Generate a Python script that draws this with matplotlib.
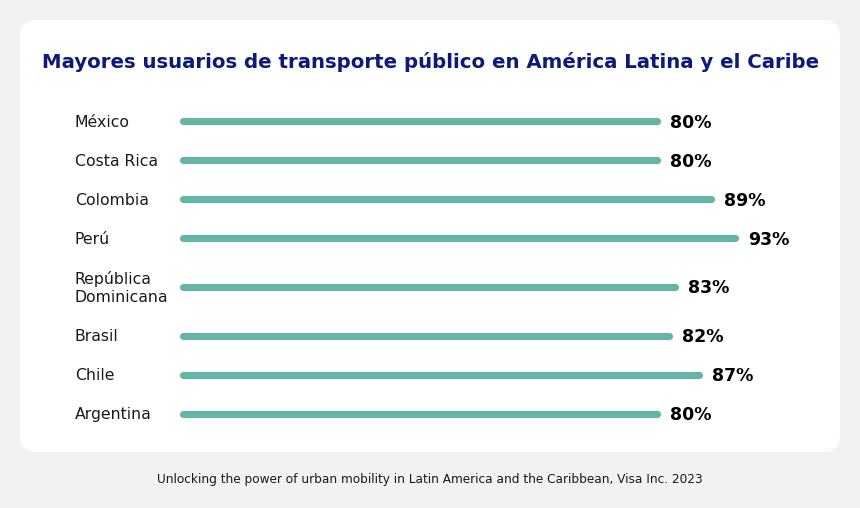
import matplotlib.pyplot as plt
from matplotlib.patches import FancyBboxPatch
from matplotlib.transforms import blended_transform_factory

countries = ["México", "Costa Rica", "Colombia", "Perú", "República\nDominicana",
             "Brasil", "Chile", "Argentina"]
shares = [80, 80, 89, 93, 83, 82, 87, 80]

BG = "#f2f2f2"
BAR = "#67b3a5"
TITLE = "#0c1a7d"
TEXT = "#1a1a1a"

fig = plt.figure(figsize=(8.6, 5.08), dpi=100)
fig.patch.set_facecolor(BG)

# white rounded card, behind the axes
card = FancyBboxPatch((0.2, 0.56), 8.2, 4.32, boxstyle="round,pad=0,rounding_size=0.17",
                      transform=fig.dpi_scale_trans, facecolor="white",
                      edgecolor="none", zorder=-5)
fig.patches.append(card)

# row heights: two-line labels get a taller row
heights = [1.5 if "\n" in c else 1.0 for c in countries]
centres = []
acc = 0
for h in heights:
    centres.append(acc + h / 2)
    acc += h

ax = fig.add_axes([180 / 860, (508 - 433) / 508, 600 / 860, 331.5 / 508])
ax.set_zorder(2)
ax.patch.set_alpha(0)
ax.set_xlim(0, 100)
ax.set_ylim(acc, 0)
ax.axis("off")

lc = ax.hlines(centres, 0.55, [s - 0.55 for s in shares], color=BAR, linewidth=5.2)
lc.set_capstyle("round")

lbl_tr = blended_transform_factory(ax.transAxes, ax.transData)
for c, y, s in zip(countries, centres, shares):
    ax.text(-105 / 600, y + 0.03, c, transform=lbl_tr, ha="left", va="center",
            fontsize=11.3, color=TEXT, linespacing=1.25)
    ax.text(s + 1.7, y + 0.04, f"{s}%", ha="left", va="center", fontsize=12.5,
            fontweight="bold", color="black")

fig.text(431 / 860, 1 - 62 / 508,
         "Mayores usuarios de transporte público en América Latina y el Caribe",
         ha="center", va="center", fontsize=14.2, fontweight="bold", color=TITLE)
fig.text(430 / 860, 1 - 480 / 508,
         "Unlocking the power of urban mobility in Latin America and the Caribbean, Visa Inc. 2023",
         ha="center", va="center", fontsize=8.7, color=TEXT)

fig.savefig("out.png", dpi=100, facecolor=BG)
